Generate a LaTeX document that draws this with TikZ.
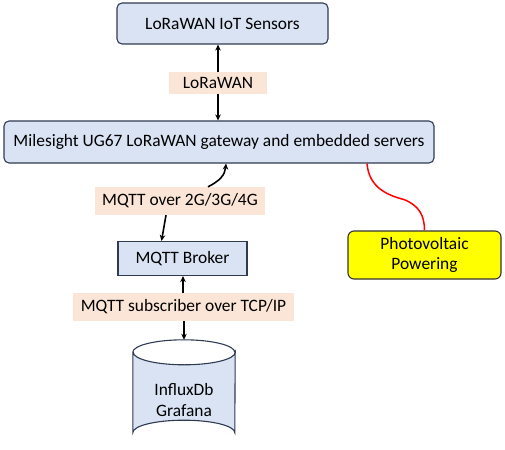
\documentclass[tikz,border=0pt]{standalone}
\usepackage{fontspec}
\setmainfont{Carlito}
\usetikzlibrary{arrows.meta,calc}
\definecolor{boxfill}{HTML}{DAE3F3}
\definecolor{boxline}{HTML}{2F3B52}
\definecolor{lblfill}{HTML}{FBE5D6}
\definecolor{pvfill}{HTML}{FFFF00}
\definecolor{pvred}{HTML}{FF0000}
\tikzset{
  txt/.style={font=\fontsize{17.4}{20}\selectfont},
  bluebox/.style={draw=boxline, fill=boxfill, line width=1.1pt, inner sep=0pt, txt, align=center},
  lbl/.style={fill=lblfill, draw=none, inner sep=0pt, txt, align=center},
  conn/.style={line width=1.6pt, -{Stealth[length=6pt,width=5.5pt]}},
}
\begin{document}
\begin{tikzpicture}[x=1pt,y=-1pt]
\useasboundingbox (0,0) rectangle (505,449);
\node[bluebox, rounded corners=5pt, minimum width=211pt, minimum height=41pt] (sens) at (222.5,23.5) {LoRaWAN IoT Sensors};
\node[lbl, minimum width=98pt, minimum height=22pt] (lora) at (218,83) {LoRaWAN};
\node[bluebox, rounded corners=5pt, minimum width=430pt, minimum height=42pt] (gw) at (219,142) {Milesight UG67 LoRaWAN gateway and embedded servers};
\node[lbl, minimum width=170pt, minimum height=28pt] (mqtt) at (180,201) {MQTT over 2G/3G/4G};
\node[bluebox, minimum width=129pt, minimum height=34pt] (broker) at (182.5,258.5) {MQTT Broker};
\node[lbl, minimum width=221pt, minimum height=28pt] (sub) at (183.5,307) {MQTT subscriber over TCP/IP};
\node[bluebox, rounded corners=6pt, fill=pvfill, draw=black!80, minimum width=153pt, minimum height=48pt, font=\fontsize{17.4}{19.5}\selectfont] (pv) at (424.5,255) {Photovoltaic\\Powering};
% cylinder
\node[draw=none, minimum width=102pt, minimum height=105pt, inner sep=0pt] (db) at (184,392.5) {};
\path[draw=boxline, fill=boxfill, line width=1.1pt]
  ($(db.north west)+(0,12.5)$) -- ($(db.south west)+(0,-12.5)$)
  arc[start angle=180, end angle=360, x radius=51pt, y radius=-12.5pt]
  -- ($(db.north east)+(0,12.5)$)
  arc[start angle=0, end angle=180, x radius=51pt, y radius=-12.5pt] -- cycle;
\draw[boxline, line width=1.1pt] ($(db.north west)+(0,12.5)$)
  arc[start angle=180, end angle=360, x radius=51pt, y radius=-12.5pt];
\node[font=\fontsize{17.4}{21}\selectfont, align=center] (dbtxt) at (184,400) {InfluxDb\\Grafana};
% connectors
\draw[conn] (lora.north) -- (lora.north |- sens.south);
\draw[conn] (lora.south) -- (lora.south |- gw.north);
\draw[conn] ($(mqtt.north)+(28,0)$) .. controls ($(mqtt.north)+(40,-6)$) and ($(mqtt.north)+(45,-12)$) .. ($(gw.south)+(7,0)$);
\draw[conn] ($(mqtt.south)+(-14,0)$) -- ($(broker.north)+(-21,0)$);
\draw[conn] ($(sub.north -| broker.south)+(0.5,0)$) -- ($(broker.south)+(0.5,0)$);
\draw[conn] (sub.south -| db.north) -- (db.north);
\draw[pvred, line width=1.5pt] ($(gw.south)+(148,0)$) .. controls ($(gw.south)+(150,25)$) and ($(gw.south)+(170,32)$) .. ($(gw.south)+(185,36)$) .. controls ($(gw.south)+(200,42)$) and ($(pv.north)+(0,-15)$) .. (pv.north);
\end{tikzpicture}
\end{document}
